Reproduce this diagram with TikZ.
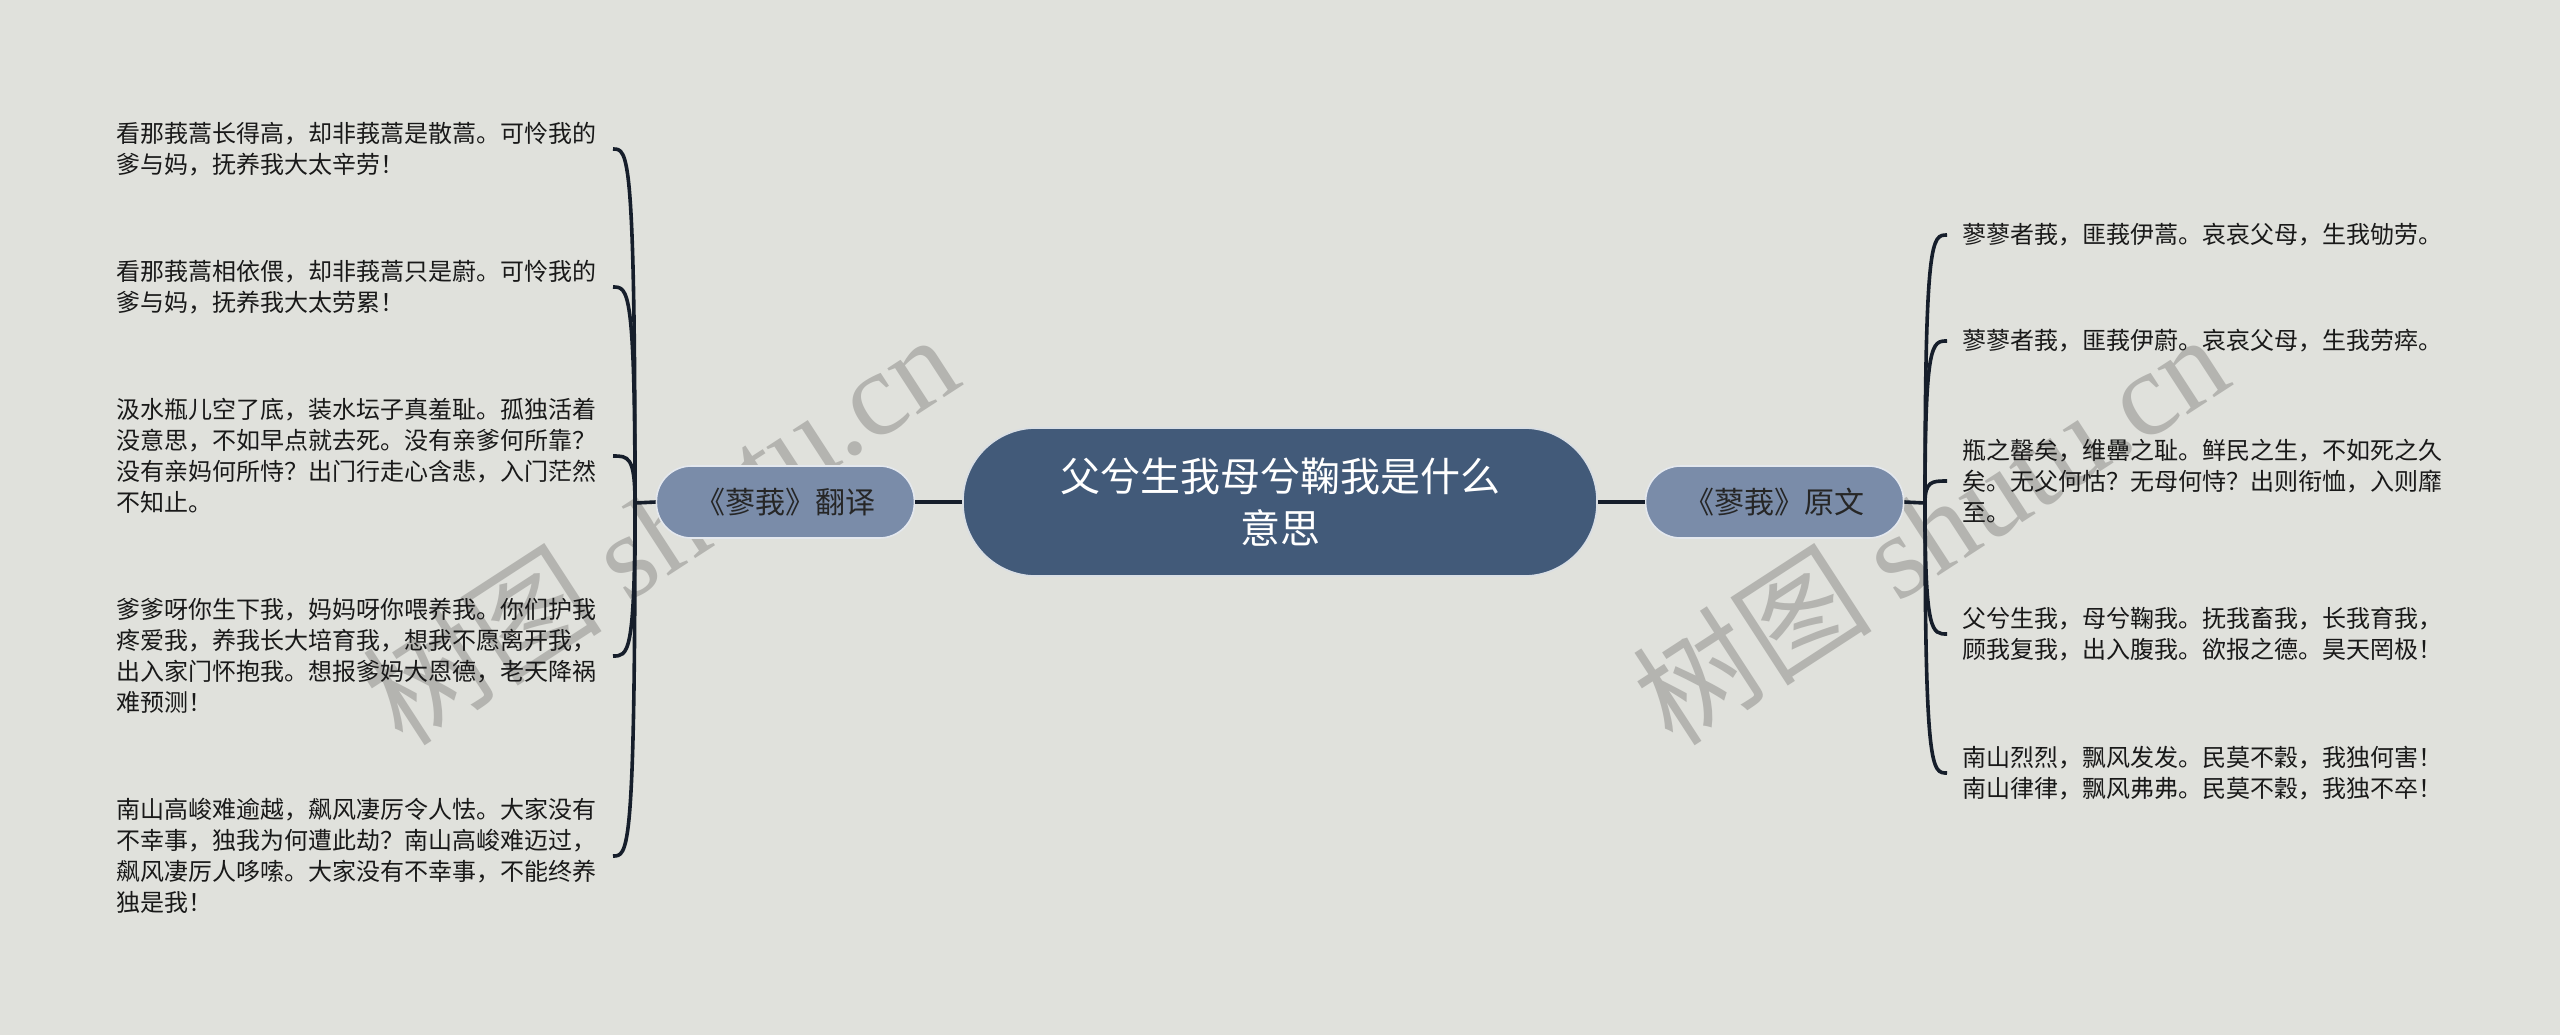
\documentclass[tikz,border=0pt]{standalone}
\usepackage{fontspec}
\newfontfamily\cjk{Noto Sans CJK SC}
\newfontfamily\wmlatin{Liberation Serif}
\usetikzlibrary{positioning,calc}
\definecolor{bgc}{HTML}{E0E1DC}
\definecolor{hubc}{HTML}{425A79}
\definecolor{subc}{HTML}{7A8CA9}
\definecolor{linkc}{HTML}{161E2B}
\definecolor{wmc}{HTML}{B4B4B0}
\tikzstyle{hub}  = [rectangle, rounded corners=36.5pt, fill=hubc, draw=white!80!hubc, line width=0.8pt, minimum width=317pt, minimum height=74pt, text=white, align=center, font=\cjk\fontsize{20}{26}\selectfont]
\tikzstyle{sub}  = [rectangle, rounded corners=17.5pt, fill=subc, draw=white!80!subc, line width=0.8pt, minimum width=129pt, minimum height=36pt, text=black!85, align=center, font=\cjk\fontsize{15}{18}\selectfont]
\tikzstyle{leaf} = [inner sep=0pt, align=left, text=black!90, font=\cjk\fontsize{12}{15.5}\selectfont]
\tikzstyle{link} = [draw=linkc, line width=1.8pt]
\tikzstyle{wmark} = [text=wmc, rotate=33, font=\cjk\fontsize{60}{60}\selectfont]

\begin{document}
\begin{tikzpicture}[x=0.5pt, y=-0.5pt]
		\fill[bgc] (0,0) rectangle (2560,1035);
		\useasboundingbox (0,0) rectangle (2560,1035);

		% watermarks
		\node[wmark] (wm1) at (660,528) {树图 {\wmlatin shutu.cn}};
		\node[wmark] (wm2) at (1930,528) {树图 {\wmlatin shutu.cn}};

		\node[hub] (title) at (1280,502) {父兮生我母兮鞠我是什么\\意思};
		\node[sub, left=23.5pt of title] (trans) {《蓼莪》翻译};
		\node[sub, right=23.5pt of title] (orig) {《蓼莪》原文};
		\coordinate (tfork) at (635,503);
		\coordinate (ofork) at (1925,503);

		% translation
		\node[leaf, anchor=west] (t1) at (116,149) {看那莪蒿长得高，却非莪蒿是散蒿。可怜我的\\爹与妈，抚养我大太辛劳！};
		\node[leaf, anchor=west] (t2) at (116,287) {看那莪蒿相依偎，却非莪蒿只是蔚。可怜我的\\爹与妈，抚养我大太劳累！};
		\node[leaf, anchor=west] (t3) at (116,456) {汲水瓶儿空了底，装水坛子真羞耻。孤独活着\\没意思，不如早点就去死。没有亲爹何所靠？\\没有亲妈何所恃？出门行走心含悲，入门茫然\\不知止。};
		\node[leaf, anchor=west] (t4) at (116,656) {爹爹呀你生下我，妈妈呀你喂养我。你们护我\\疼爱我，养我长大培育我，想我不愿离开我，\\出入家门怀抱我。想报爹妈大恩德，老天降祸\\难预测！};
		\node[leaf, anchor=west] (t5) at (116,856) {南山高峻难逾越，飙风凄厉令人怯。大家没有\\不幸事，独我为何遭此劫？南山高峻难迈过，\\飙风凄厉人哆嗦。大家没有不幸事，不能终养\\独是我！};

		% original
		\node[leaf, anchor=west] (o1) at (1962,235) {蓼蓼者莪，匪莪伊蒿。哀哀父母，生我劬劳。};
		\node[leaf, anchor=west] (o2) at (1962,341) {蓼蓼者莪，匪莪伊蔚。哀哀父母，生我劳瘁。};
		\node[leaf, anchor=west] (o3) at (1962,481) {瓶之罄矣，维罍之耻。鲜民之生，不如死之久\\矣。无父何怙？无母何恃？出则衔恤，入则靡\\至。};
		\node[leaf, anchor=west] (o4) at (1962,634) {父兮生我，母兮鞠我。抚我畜我，长我育我，\\顾我复我，出入腹我。欲报之德。昊天罔极！};
		\node[leaf, anchor=west] (o5) at (1962,773) {南山烈烈，飘风发发。民莫不穀，我独何害！\\南山律律，飘风弗弗。民莫不穀，我独不卒！};

		\draw[link] (title.west) -- (trans.east);
		\draw[link] (title.east) -- (orig.west);
		\draw[link] (trans.west) -- (tfork);
		\draw[link] (orig.east) -- (ofork);
		\foreach \i in {1,...,5} {
			\draw[link] (tfork) .. controls (tfork |- t\i.east) and ($(tfork |- t\i.east)+(-7,0)$) .. ($(tfork |- t\i.east)+(-22,0)$);
			\draw[link] (ofork) .. controls (ofork |- o\i.west) and ($(ofork |- o\i.west)+(7,0)$) .. ($(ofork |- o\i.west)+(22,0)$);
		}
	\end{tikzpicture}
\end{document}
